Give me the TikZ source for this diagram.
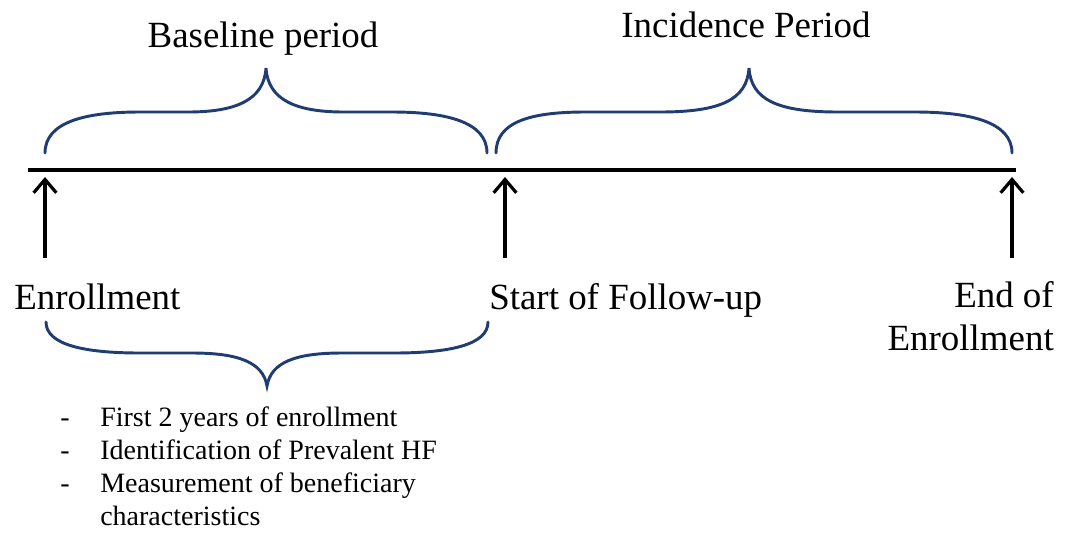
\documentclass[tikz,border=0pt]{standalone}
\usepackage{fontspec}
\setmainfont{Liberation Serif}
\usetikzlibrary{arrows.meta}
\definecolor{bracecol}{HTML}{1F3C73}
\tikzset{
  bracepath/.style={draw=bracecol, line width=2.2pt, line cap=round},
  timeline/.style={draw=black, line width=3.4pt},
  uparrow/.style={draw=black, line width=2.4pt, -{Straight Barb[length=10pt,width=17pt]}},
  biglabel/.style={inner sep=0pt, font=\fontsize{27.7pt}{32.3pt}\selectfont},
  smalllabel/.style={inner sep=0pt, font=\fontsize{21pt}{25pt}\selectfont},
}
\begin{document}
\begin{tikzpicture}[x=0.75pt,y=-0.75pt]
\useasboundingbox (0,0) rectangle (1069,533);
% timeline
\coordinate (tl0) at (28,170);
\coordinate (tl1) at (1016,170);
\draw[timeline] (tl0) -- (tl1);
% arrows
\coordinate (a1b) at (45,258);  \coordinate (a1t) at (45,177);
\coordinate (a2b) at (505,258); \coordinate (a2t) at (505,177);
\coordinate (a3b) at (1012,258);\coordinate (a3t) at (1012,177);
\draw[uparrow] (a1b) -- (a1t);
\draw[uparrow] (a2b) -- (a2t);
\draw[uparrow] (a3b) -- (a3t);
% baseline brace (top)
\draw[bracepath] (45,153) .. controls (45,122) and (85,112) .. (140,112) -- (188,112)
  .. controls (236,112) and (264,100) .. (266,68)
  .. controls (268,100) and (296,112) .. (344,112) -- (392,112)
  .. controls (447,112) and (487,122) .. (487,153);
% incidence brace (top)
\draw[bracepath] (496,153) .. controls (496,122) and (530,112) .. (585,112) -- (660,112)
  .. controls (720,112) and (747,100) .. (749,68)
  .. controls (751,100) and (778,112) .. (838,112) -- (915,112)
  .. controls (970,112) and (1012,122) .. (1012,153);
% bottom brace
\draw[bracepath] (46,322) .. controls (46,345) and (85,353) .. (140,353) -- (192,353)
  .. controls (238,353) and (263,362) .. (267,386)
  .. controls (271,362) and (296,353) .. (342,353) -- (394,353)
  .. controls (449,353) and (488,345) .. (488,322);
% labels
\node[biglabel, anchor=base] (basel) at (263,47) {Baseline period};
\node[biglabel, anchor=base] (incid) at (746,37) {Incidence Period};
\node[biglabel, anchor=base west] (enr) at (14,309) {Enrollment};
\node[biglabel, anchor=base west] (sfu) at (489,309) {Start of Follow-up};
\node[biglabel, anchor=base east] (eoe1) at (1054,307) {End of};
\node[biglabel, anchor=base east] (eoe2) at (1054,350) {Enrollment};
% bullet list
\node[smalllabel, anchor=base west] (d1) at (60,426) {-};
\node[smalllabel, anchor=base west] (b1) at (100,426) {First 2 years of enrollment};
\node[smalllabel, anchor=base west] (d2) at (60,459) {-};
\node[smalllabel, anchor=base west] (b2) at (100,459) {Identification of Prevalent HF};
\node[smalllabel, anchor=base west] (d3) at (60,492) {-};
\node[smalllabel, anchor=base west] (b3) at (100,492) {Measurement of beneficiary};
\node[smalllabel, anchor=base west] (b4) at (100,525) {characteristics};
\end{tikzpicture}
\end{document}
